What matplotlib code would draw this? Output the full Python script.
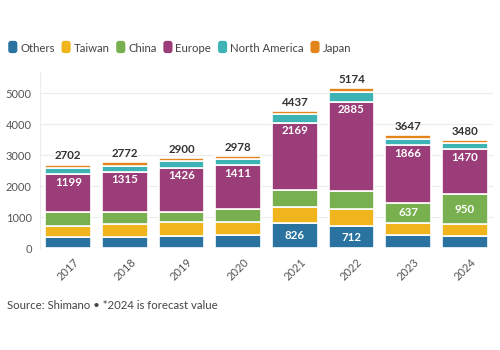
import matplotlib

matplotlib.use("Agg")
import matplotlib.pyplot as plt
import numpy as np
from matplotlib.patches import FancyBboxPatch
from matplotlib.legend_handler import HandlerPatch

plt.rcParams["font.family"] = ["Lato", "DejaVu Sans"]

years = ["2017", "2018", "2019", "2020", "2021", "2022", "2023", "2024"]
regions = ["Others", "Taiwan", "China", "Europe", "North America", "Japan"]
others = [360, 350, 400, 430, 826, 712, 410, 400]
taiwan = [370, 430, 430, 410, 496, 556, 418, 385]
china = [453, 380, 340, 420, 560, 580, 637, 950]
europe = [1199, 1315, 1426, 1411, 2169, 2885, 1866, 1470]
north_america = [220, 190, 220, 210, 270, 297, 195, 203]
japan = [100, 107, 84, 97, 116, 144, 121, 72]
totals = [2702, 2772, 2900, 2978, 4437, 5174, 3647, 3480]

# which segment values get printed inside the bars
labelled = {
    "Others": [False, False, False, False, True, True, False, False],
    "China": [False, False, False, False, False, False, True, True],
    "Europe": [True] * 8,
}

colors = ["#2a73a0", "#f0b51c", "#79b04f", "#9b3d78", "#3db3b5", "#e3841c"]
series = [others, taiwan, china, europe, north_america, japan]


class RoundedHandler(HandlerPatch):
    def create_artists(self, legend, orig_handle, xdescent, ydescent, width, height, fontsize, trans):
        h = height * 1.3
        w = width
        p = FancyBboxPatch(
            (xdescent, ydescent - (h - height) / 2),
            w, h,
            boxstyle="round,pad=0,rounding_size=2",
            facecolor=orig_handle.get_facecolor(),
            edgecolor="none",
            transform=trans,
        )
        return [p]


fig = plt.figure(figsize=(5, 3.5), dpi=100, facecolor="white")
ax = fig.add_axes([0.08, 0.291, 0.906, 0.504])

x = np.arange(len(years))
bottom = np.zeros(len(years))
handles = []
for name, vals, col in zip(regions, series, colors):
    vals = np.array(vals, dtype=float)
    bars = ax.bar(x, vals, 0.81, bottom=bottom, color=col, edgecolor="white", linewidth=1.2, label=name, zorder=3)
    handles.append(bars[0])
    if name in labelled:
        for i, show in enumerate(labelled[name]):
            if not show:
                continue
            if name == "Europe":
                y = bottom[i] + vals[i] - 260
            else:
                y = bottom[i] + vals[i] / 2
            ax.text(x[i], y, f"{int(vals[i])}", ha="center", va="center", color="white",
                    fontsize=8.3, fontweight="bold", zorder=4)
    bottom += vals

for i, t in enumerate(totals):
    ax.text(x[i], t + 100, f"{t}", ha="center", va="bottom", color="#333333",
            fontsize=8.3, fontweight="bold", zorder=4)

ax.set_xlim(-0.5, len(years) - 0.5)
ax.set_ylim(0, 5700)
ax.set_yticks([0, 1000, 2000, 3000, 4000, 5000])
ax.set_xticks(x)
ax.set_xticklabels(years, rotation=45, ha="center")
ax.tick_params(axis="both", colors="#555555", labelsize=8, length=0)
ax.tick_params(axis="x", pad=6)
ax.tick_params(axis="y", pad=6)
ax.grid(axis="y", color="#ececec", linewidth=0.8, zorder=0)
for side in ["top", "right", "bottom"]:
    ax.spines[side].set_visible(False)
ax.spines["left"].set_color("#ececec")
ax.spines["left"].set_linewidth(0.8)

fig.legend(
    handles, regions,
    loc="upper left", bbox_to_anchor=(-0.004, 0.905),
    ncol=6, frameon=False, fontsize=8.2,
    handlelength=0.8, handleheight=0.9, handletextpad=0.25, columnspacing=0.6,
    handler_map={h: RoundedHandler() for h in handles},
    labelcolor="#444444",
)

fig.text(0.014, 0.128, "Source: Shimano \u2022 *2024 is forecast value", fontsize=8.2, color="#444444", va="center")

fig.savefig("out.png", dpi=100, facecolor="white")
